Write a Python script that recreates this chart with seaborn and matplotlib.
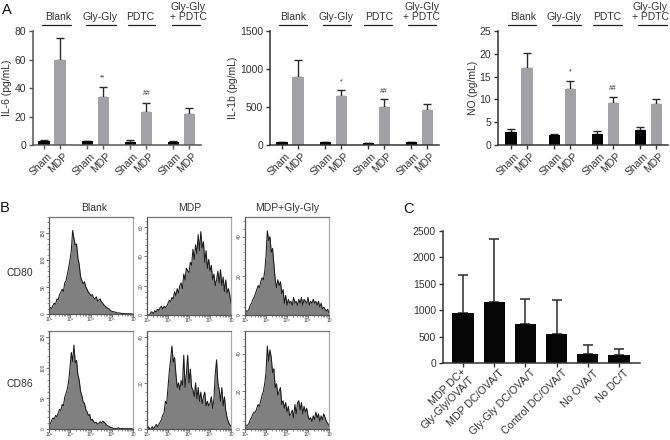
import numpy as np
import pandas as pd
import matplotlib
matplotlib.use("Agg")
import matplotlib.pyplot as plt
from matplotlib.ticker import MultipleLocator, FixedLocator, NullFormatter
from matplotlib.transforms import ScaledTranslation
import seaborn as sns

# ---------- data ----------
groups = ["Blank", "Gly-Gly", "PDTC", "Gly-Gly\n+ PDTC"]
treatments = ["Sham", "MDP"]

il6_mean = [2.5, 60, 2.5, 33.5, 2.2, 23.5, 2.0, 21.5]
il6_upper = [3.5, 75, 3.0, 41, 3.2, 29.5, 3.0, 26]
il1b_mean = [35, 895, 35, 645, 25, 495, 35, 460]
il1b_upper = [45, 1115, 45, 720, 32, 600, 42, 545]
no_mean = [2.9, 16.8, 2.1, 12.2, 2.5, 9.3, 3.3, 9.1]
no_upper = [3.4, 20.2, 2.5, 14.1, 3.0, 10.5, 3.9, 10.0]

c_labels = ["MDP DC+\nGly-Gly/OVA/T", "MDP DC/OVA/T", "Gly-Gly DC/OVA/T",
            "Control DC/OVA/T", "No OVA/T", "No DC/T"]
c_mean = [940, 1160, 730, 555, 165, 150]
c_upper = [1670, 2340, 1210, 1200, 335, 270]

flow_cols = ["Blank", "MDP", "MDP+Gly-Gly"]
flow_rows = ["CD80", "CD86"]
flow_xticklabels = ["10\u00b2", "10\u00b3", "10\u2074", "10\u2075", "10"]
cd80_blank = [8,12,10,16,20,18,28,26,36,40,46,42,58,62,74,86,
              100,118,155,140,128,130,104,92,70,62,56,60,50,46,40,38,
              34,36,30,28,32,24,26,28,22,20,16,14,12,10,9,6,
              5,4,4,3,2,2,2,1,1,1,0.5,0.5,0.5,0.5,0.5,0,0]
cd80_mdp = [0,0,0,2,2,1,3,2,4,3,5,6,4,6,5,6,
            8,10,9,12,11,16,13,18,15,20,22,18,28,24,32,30,
            29,36,34,45,38,48,42,55,44,57,46,50,36,44,32,38,
            30,34,24,28,20,24,30,22,31,20,26,16,24,15,18,14,8]
cd80_gly = [2,2,2,3,5,6,8,9,11,13,15,14,17,19,18,22,
            30,43,38,40,32,34,26,18,14,18,15,17,11,13,6,10,
            5,8,6,7,5,9,6,7,5,8,6,9,5,8,7,6,
            9,5,7,6,8,6,7,5,7,4,6,3,4,3,2,3,1]
cd86_blank = [6,8,14,18,16,22,20,26,32,30,40,38,52,58,66,78,
              100,125,110,137,108,112,88,80,62,55,44,42,32,28,22,24,
              14,16,12,10,11,8,9,12,10,13,11,9,6,5,4,2,
              2,1,1,1,1,2,0.5,0.5,1,0.5,0.5,0.5,0.5,0.5,0.5,0.5,0]
cd86_mdp = [0,1,0,0,1,0,1,2,1,2,3,4,6,7,12,11,
            18,25,30,36,29,31,24,18,20,17,21,19,32,18,24,32,
            20,26,18,17,14,20,13,18,12,16,11,14,16,10,12,10,
            11,14,9,13,24,30,20,17,12,18,10,14,8,5,3,2,1]
cd86_gly = [2,2,2,3,5,6,8,9,9,11,13,12,15,18,20,24,
            30,44,36,42,38,30,32,22,24,18,20,22,13,15,11,14,
            9,12,7,8,10,6,13,8,14,15,10,14,8,12,9,11,
            7,5,6,4,7,5,9,6,8,4,7,5,8,6,4,3,2]

# ---------- style ----------
sns.set_theme(style="ticks")
plt.rcParams["font.family"] = ["Liberation Sans", "DejaVu Sans"]
TXT = "#333333"
W, H = 670, 440
fig = plt.figure(figsize=(W / 100, H / 100), dpi=100, facecolor="white")


def axpx(l, t, r, b):
    return fig.add_axes([l / W, 1 - b / H, (r - l) / W, (b - t) / H])


def label(x, y, s, size=7.5, **kw):
    kw.setdefault("ha", "center")
    kw.setdefault("va", "center")
    kw.setdefault("color", TXT)
    fig.text(x / W, 1 - y / H, s, fontsize=size, **kw)


def style_axis(ax, color):
    sns.despine(ax=ax)
    for s in ("left", "bottom"):
        ax.spines[s].set_color(color)
        ax.spines[s].set_linewidth(1.1)
    ax.tick_params(axis="both", length=3, width=1, color=color, labelcolor=TXT,
                   labelsize=7.5, pad=2)


def shift_labels(labs, px_right, px_up):
    off = ScaledTranslation(px_right / 100, px_up / 100, fig.dpi_scale_trans)
    for lab in labs:
        lab.set_transform(lab.get_transform() + off)


for box, mean, upper, ymax, step, yl, ylx, first, lines, tx, stars, col in [
    ((33, 31, 201, 145), il6_mean, il6_upper, 80, 20, "IL-6 (pg/mL)", 7, 44,
     [(42, 71), (86, 116), (128, 155), (172, 200)], [58, 100, 140, 188],
     [(103, 47, "**"), (147, 36, "##")], "#555555"),
    ((270, 31, 439, 145), il1b_mean, il1b_upper, 1500, 500, "IL-1b (pg/mL)", 233, 282,
     [(279, 307), (323, 351), (364, 392), (408, 436)], [293, 336, 379, 422],
     [(341, 825, "*"), (384, 705, "##")], "#333333"),
    ((498, 31, 668, 145), no_mean, no_upper, 25, 5, "NO (pg/mL)", 473, 511,
     [(508, 536), (552, 581), (593, 622), (638, 667)], [523, 564, 607, 650],
     [(570, 16, "*"), (613, 12.3, "##")], "#333333"),
]:
    ax = axpx(*box)
    l, t, r, b = box
    pos = [p for i in range(4) for p in (first + i * 43.1, first + i * 43.1 + 16)]
    df = pd.DataFrame({"pos": pos, "value": mean, "treatment": treatments * 4})
    sns.barplot(data=df, x="pos", y="value", hue="treatment", dodge=False,
                native_scale=True, width=0.69, errorbar=None, legend=False,
                palette={"Sham": "#050505", "MDP": "#a2a2a6"}, saturation=1,
                linewidth=0, ax=ax, zorder=2)
    err = np.array(upper, float) - np.array(mean, float)
    ax.errorbar(pos, mean, yerr=[np.zeros_like(err), err], fmt="none",
                ecolor="#2a2a2a", elinewidth=1, capsize=2.6, capthick=1, zorder=1)
    ax.set_xlim(l, r)
    ax.set_ylim(0, ymax)
    ax.yaxis.set_major_locator(MultipleLocator(step))
    ax.set_xticks(pos)
    ax.set_xticklabels(treatments * 4, rotation=45, ha="right", rotation_mode="anchor")
    ax.set_xlabel("")
    style_axis(ax, col)
    shift_labels(ax.get_xticklabels(), 3, 1)
    ax.set_ylabel(yl, fontsize=7.5, color=TXT, va="center")
    ax.yaxis.set_label_coords((ylx - l) / (r - l), 0.5)
    for (x0, x1), tc, g in zip(lines, tx, groups):
        ax.plot([x0, x1], [1 + 6 / (b - t)] * 2, color="#222222", lw=0.9,
                clip_on=False, transform=ax.get_xaxis_transform())
        if "\n" in g:
            label(tc, 12, g, linespacing=1.05)
        else:
            label(tc, 17, g)
    for x, y, s in stars:
        ax.text(x, y, s, ha="center", va="center", fontsize=5, color=TXT)

# ---------- panel C ----------
axc = axpx(443, 231, 640, 363)
sns.barplot(x=c_labels, y=c_mean, color="#050505", width=0.68, errorbar=None,
            saturation=1, linewidth=0, ax=axc, zorder=2)
c_err = np.array(c_upper, float) - np.array(c_mean, float)
axc.errorbar(range(len(c_labels)), c_mean, yerr=[np.zeros_like(c_err), c_err], fmt="none",
             ecolor="#2a2a2a", elinewidth=1.1, capsize=3.6, capthick=1.1, zorder=1)
axc.set_xlim(-0.64, 5.67)
axc.set_ylim(0, 2500)
axc.yaxis.set_major_locator(MultipleLocator(500))
axc.set_xticks(range(len(c_labels)))
axc.set_xticklabels(c_labels, rotation=45, ha="right", rotation_mode="anchor",
                    linespacing=1.1, fontsize=7.7)
style_axis(axc, "#333333")
axc.tick_params(axis="x", labelsize=7.7)
c_ticklabels = axc.get_xticklabels()
shift_labels(c_ticklabels[:1], -2, 3)
shift_labels(c_ticklabels[1:], 5, 2)

# ---------- panel B ----------
flow_boxes = {
    (0, 0): (49, 217, 133, 314, 180, 50, cd80_blank),
    (0, 1): (147, 217, 231, 315, 67, 20, cd80_mdp),
    (0, 2): (245, 217, 329, 315, 50, 20, cd80_gly),
    (1, 0): (49, 331, 133, 429, 160, 50, cd86_blank),
    (1, 1): (147, 331, 231, 429, 42.5, 20, cd86_mdp),
    (1, 2): (245, 331, 329, 429, 52, 20, cd86_gly),
}
for (row, col), (l, t, r, b, ymax, step, vals) in flow_boxes.items():
    ax = axpx(l, t, r, b)
    chan = np.linspace(2, 6, len(vals))
    ax.fill_between(chan, vals, 0, color="#808080", lw=0, zorder=1)
    sns.lineplot(x=chan, y=vals, color="#1c1c1c", lw=0.75, ax=ax, zorder=2)
    ax.set_xlim(2, 6)
    ax.set_ylim(0, ymax)
    ax.set_xticks([2, 3, 4, 5, 6])
    ax.set_xticklabels(flow_xticklabels)
    minor = [d + np.log10(m) for d in range(2, 6) for m in range(2, 10)]
    ax.xaxis.set_minor_locator(FixedLocator(minor))
    ax.xaxis.set_minor_formatter(NullFormatter())
    ax.yaxis.set_major_locator(MultipleLocator(step))
    ax.yaxis.set_minor_locator(MultipleLocator(step / 5))
    ax.tick_params(axis="both", which="major", length=2, width=0.5, color="#444444",
                   labelsize=3.6, labelcolor="#444444", pad=0.5)
    ax.tick_params(axis="both", which="minor", length=1.1, width=0.4, color="#444444")
    ax.tick_params(axis="y", labelrotation=90)
    for lab in ax.get_yticklabels():
        lab.set_va("center")
    for s, c in (("left", "#555555"), ("bottom", "#555555"),
                 ("top", "#777777"), ("right", "#aaaaaa")):
        ax.spines[s].set_color(c)
        ax.spines[s].set_linewidth(0.9)

for x, s in zip([94, 190, 287], flow_cols):
    label(x, 208, s)
for y, s in zip([273, 384], flow_rows):
    label(20, y, s, size=7.5)

label(7, 10, "A", size=10.5, color="#111111")
label(5, 208, "B", size=10.5, color="#111111")
label(409, 209, "C", size=10.5, color="#111111")

fig.savefig("out.png", dpi=100, facecolor="white")
